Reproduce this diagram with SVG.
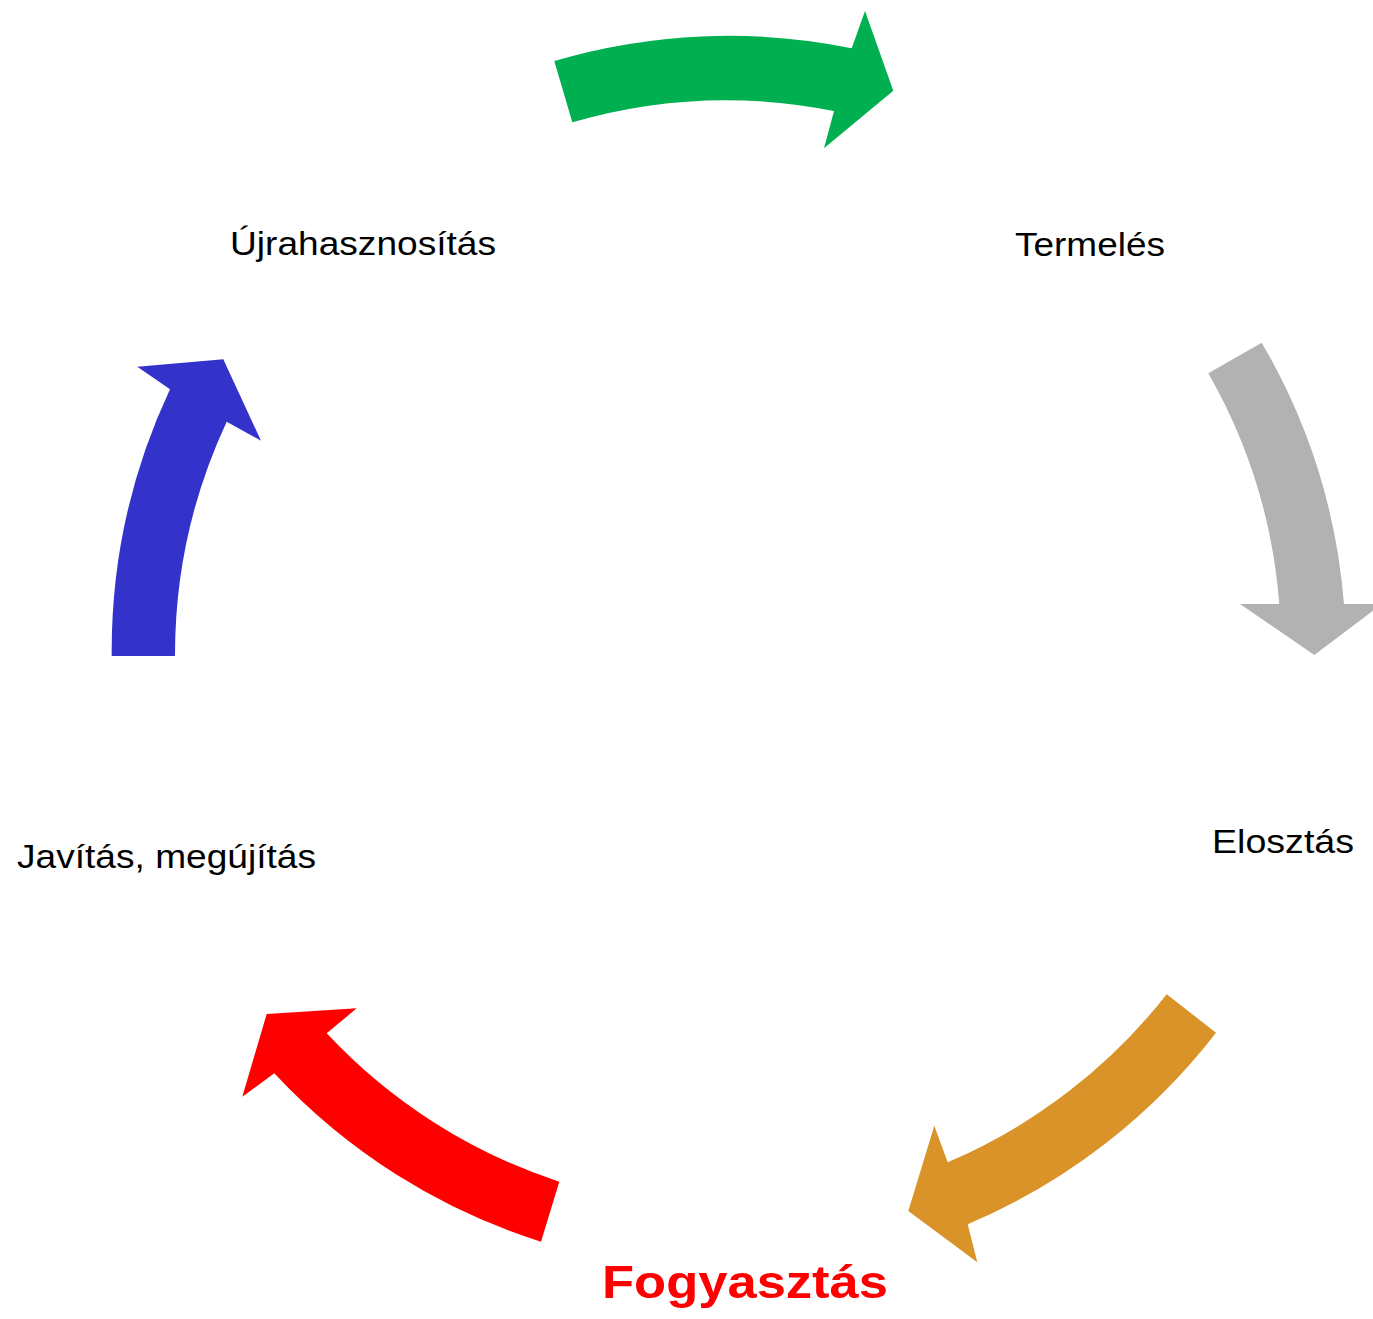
<svg xmlns="http://www.w3.org/2000/svg" width="1373" height="1319" viewBox="0 0 1373 1319">
<style>
.lbl{font-family:"Liberation Sans",Arial,sans-serif;font-size:33px;fill:#000}
.main{font-family:"Liberation Sans",Arial,sans-serif;font-size:46px;font-weight:bold;fill:#FF0000}
</style>
<rect width="1373" height="1319" fill="#fff"/>
<g id="connectors">
<path id="arrow-green" fill="#00B050" d="M554.3,61 A616,616 0 0 1 851.7,48.3 L865,11 L893.3,90.7 L824,148.3 L834,111 A552,552 0 0 0 572.3,122.3 Z"/>
<path id="arrow-grey" fill="#B2B2B2" d="M1261.7,342.7 A616,616 0 0 1 1344,604 L1382,604 L1314.3,655 L1240,604 L1279.3,604 A552,552 0 0 0 1208.3,373.3 Z"/>
<path id="arrow-orange" fill="#DA9328" d="M1216,1032.7 A619,619 0 0 1 967.7,1224.3 L977.3,1262.3 L908.3,1211 L934.3,1125.7 L947.7,1162.3 A556,556 0 0 0 1166.7,994.3 Z"/>
<path id="arrow-red" fill="#FF0000" d="M541,1241.7 A618,618 0 0 1 274.3,1073.3 L242.3,1096.7 L266.7,1014 L356.7,1008.3 L326.7,1033.3 A554,554 0 0 0 559.3,1181.7 Z"/>
<path id="arrow-blue" fill="#3333CC" d="M111.7,656 A616,616 0 0 1 170,389.3 L137.3,366.7 L223.3,359.3 L261,440.7 L226.7,421.7 A552,552 0 0 0 175,656 Z"/>
</g>
<g id="node-ujrahasznositas"><text class="lbl" x="230" y="254.5" textLength="266" lengthAdjust="spacingAndGlyphs">Újrahasznosítás</text></g>
<g id="node-termeles"><text class="lbl" x="1015" y="256" textLength="150" lengthAdjust="spacingAndGlyphs">Termelés</text></g>
<g id="node-elosztas"><text class="lbl" x="1212" y="852.5" textLength="142" lengthAdjust="spacingAndGlyphs">Elosztás</text></g>
<g id="node-fogyasztas"><text class="main" x="602" y="1298" textLength="286" lengthAdjust="spacingAndGlyphs">Fogyasztás</text></g>
<g id="node-javitas"><text class="lbl" x="17" y="867.5" textLength="299" lengthAdjust="spacingAndGlyphs">Javítás, megújítás</text></g>
</svg>
